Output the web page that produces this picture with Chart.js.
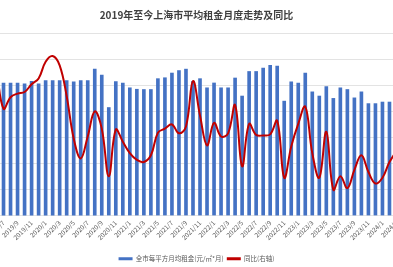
<!DOCTYPE html>
<html>
<head>
<meta charset="utf-8">
<script src="https://cdn.jsdelivr.net/npm/chart.js@4.4.1/dist/chart.umd.min.js"></script>
<style>
  html, body { margin: 0; padding: 0; background: #fff; overflow: hidden; }
  #wrap { position: relative; width: 393px; height: 267px; overflow: hidden; }
  #chart { position: absolute; left: -7px; top: 0; }
</style>
</head>
<body>
<div id="wrap"><canvas id="chart" width="407" height="267"></canvas></div>
<script>
// 月份（首尾各多一个月，被裁在画面外）
const months = [
  '2019/6', '2019/7', '2019/8', '2019/9', '2019/10', '2019/11', '2019/12',
  '2020/1', '2020/2', '2020/3', '2020/4', '2020/5', '2020/6', '2020/7', '2020/8', '2020/9', '2020/10', '2020/11', '2020/12',
  '2021/1', '2021/2', '2021/3', '2021/4', '2021/5', '2021/6', '2021/7', '2021/8', '2021/9', '2021/10', '2021/11', '2021/12',
  '2022/1', '2022/2', '2022/3', '2022/4', '2022/5', '2022/6', '2022/7', '2022/8', '2022/9', '2022/10', '2022/11', '2022/12',
  '2023/1', '2023/2', '2023/3', '2023/4', '2023/5', '2023/6', '2023/7', '2023/8', '2023/9', '2023/10', '2023/11', '2023/12',
  '2024/1', '2024/2', '2024/3'
];

// 全市每平方月均租金（元/㎡*月）
const rent = [
  102.0,
  102.0, 102.0, 102.0, 101.3, 103.2, 101.3,
  103.8, 103.8, 103.8, 103.8, 102.8, 103.8, 103.8, 112.6, 108.0, 83.2, 103.0, 102.0,
  98.3, 97.2, 97.0, 97.0, 105.3, 106.0, 109.6, 111.5, 112.6, 103.2, 105.3, 98.3,
  102.0, 98.3, 98.3, 105.8, 92.0, 110.8, 110.8, 113.4, 115.5, 114.9, 88.1, 102.8,
  102.0, 109.6, 95.2, 92.0, 99.2, 90.2, 98.3, 97.0, 90.6, 95.2, 86.2, 86.2,
  87.4, 87.4, 87.4
];

// 同比（%，右轴）
const yoy = [
  8.0,
  0.5, 2.7, 3.4, 3.7, 5.2, 6.3,
  9.5, 10.6, 8.8, 2.9, -5.2, -9.0, -4.8, 0.0, -3.3, -12.4, -3.5, -5.8,
  -8.0, -9.3, -9.7, -8.4, -4.1, -3.3, -2.5, -4.2, -2.9, 5.8, -0.8, -6.5,
  -2.2, -4.8, -4.2, 1.2, -10.5, -2.4, -4.5, -4.6, -4.4, -1.8, -12.7, -6.7,
  -2.4, 0.9, -8.0, -12.7, -3.9, -15.0, -12.4, -14.7, -11.2, -8.4, -11.6, -13.8,
  -12.7, -9.7, -7.6
];

const FONT = '"Noto Sans CJK SC", "Noto Sans", sans-serif';
Chart.defaults.font.family = FONT;

new Chart(document.getElementById('chart'), {
  type: 'bar',
  data: {
    labels: months,
    datasets: [
      {
        label: '全市每平方月均租金(元/㎡*月)',
        data: rent,
        backgroundColor: '#4472C4',
        barPercentage: 0.52,
        categoryPercentage: 1,
        yAxisID: 'y',
        order: 1
      },
      {
        type: 'line',
        label: '同比(右轴)',
        data: yoy,
        borderColor: '#C00000',
        backgroundColor: '#C00000',
        borderWidth: 2,
        pointRadius: 0,
        tension: 0.4,
        yAxisID: 'y1',
        order: 0
      }
    ]
  },
  options: {
    responsive: false,
    animation: false,
    layout: { padding: { bottom: -5 } },
    plugins: {
      title: {
        display: true,
        text: '2019年至今上海市平均租金月度走势及同比',
        color: '#404040',
        font: { size: 10, weight: 'bold' },
        padding: { top: 9, bottom: 12 }
      },
      legend: {
        position: 'bottom',
        labels: {
          color: '#595959',
          font: { size: 6.5 },
          boxWidth: 14,
          boxHeight: 3,
          padding: 3,
          sort: (a, b) => a.datasetIndex - b.datasetIndex,
          generateLabels: (chart) =>
            Chart.defaults.plugins.legend.labels.generateLabels(chart).map(l => ({ ...l, lineWidth: 0 }))
        }
      },
      tooltip: { enabled: false }
    },
    scales: {
      x: {
        grid: { display: false, drawTicks: false },
        border: { display: false },
        ticks: {
          autoSkip: false,
          minRotation: 45,
          maxRotation: 45,
          color: '#595959',
          font: { size: 6.5 },
          padding: 3,
          callback: (v, i) => (+months[i].split('/')[1] % 2 ? months[i] : '')
        },
        afterFit: (scale) => { scale.paddingLeft = 0; scale.paddingRight = 0; scale.height += 8; }
      },
      y: {
        position: 'left',
        min: 0,
        max: 140,
        ticks: { display: false, stepSize: 20 },
        grid: { color: '#e3e3e3', drawTicks: false },
        border: { display: false }
      },
      y1: {
        position: 'right',
        display: false,
        min: -20,
        max: 15
      }
    }
  }
});
</script>
</body>
</html>
